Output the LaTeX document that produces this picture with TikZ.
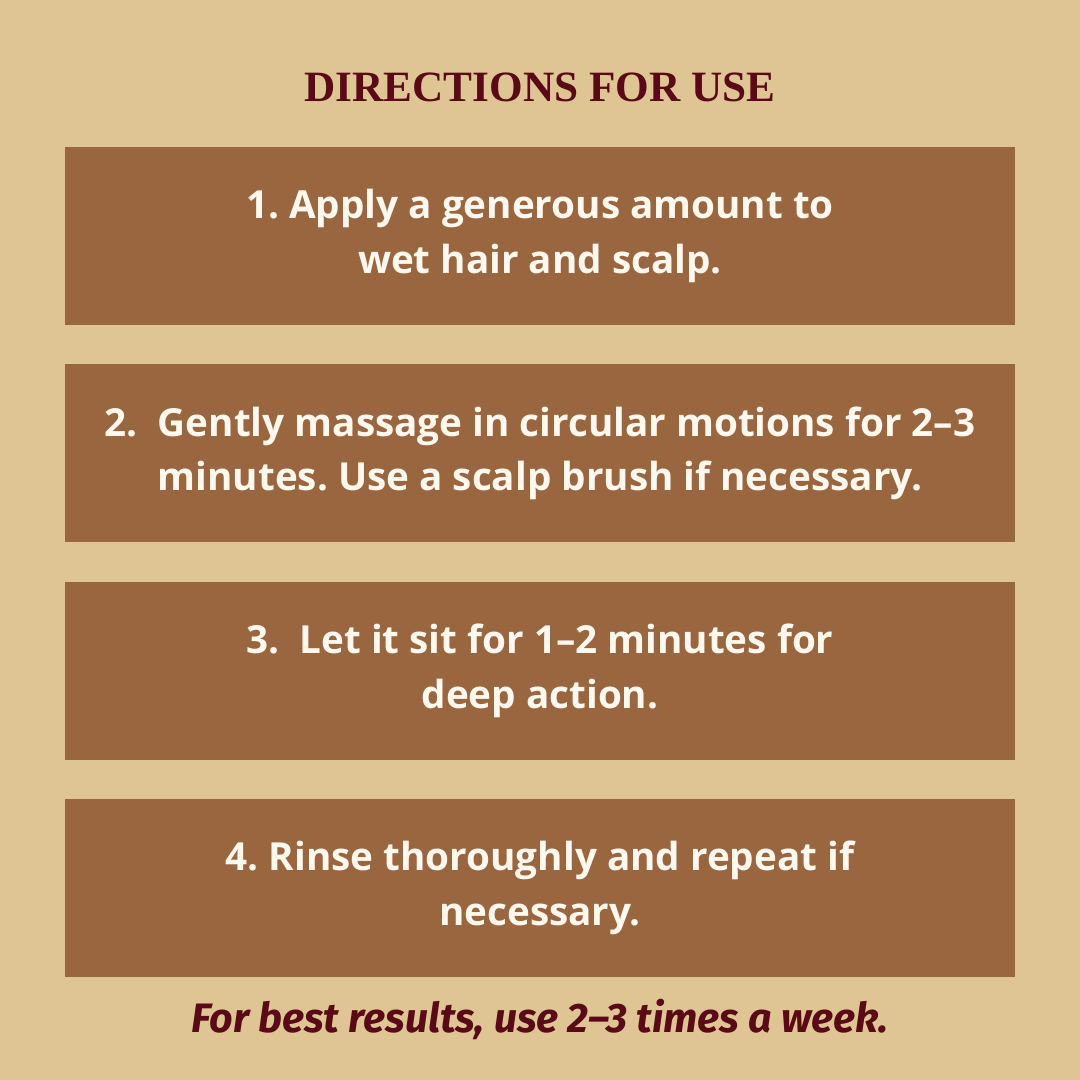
\documentclass[tikz,border=0pt]{standalone}
\usepackage{fontspec}
\setmainfont{Open Sans}
\newfontfamily\headfont{Liberation Serif}
\newfontfamily\notefont{Fira Sans}
\usetikzlibrary{positioning}
\definecolor{sandbg}{HTML}{DFC494}
\definecolor{stepbrown}{HTML}{9A6640}
\definecolor{wine}{HTML}{5A0A16}
\definecolor{cream}{HTML}{FFF8EE}
\frenchspacing

\begin{document}
\begin{tikzpicture}[
    node distance=3.8mm,
    stepbox/.style={
        rectangle,
        fill=stepbrown,
        minimum width=95mm,
        minimum height=17.8mm,
        inner sep=0pt,
        text=cream,
        align=center,
        font=\fontsize{11}{15.6}\selectfont\bfseries
    },
    heading/.style={
        anchor=base,
        text=wine,
        font=\headfont\fontsize{12.3}{15}\selectfont\bfseries
    },
    footnote/.style={
        anchor=base,
        text=wine,
        font=\notefont\fontsize{11.7}{13}\selectfont\bfseries\itshape
    }
]

% Background
\fill[sandbg] (0,0) rectangle (108mm,108mm);

% Title
\node[heading] (title) at (54mm,97.8mm) {DIRECTIONS FOR USE};

% Steps
\node[stepbox] (one) at (54mm,84.4mm) {1. Apply a generous amount to\\wet hair and scalp.};
\node[stepbox, below=of one] (two) {2.\ \ Gently massage in circular motions for 2–3\\minutes. Use a scalp brush if necessary.};
\node[stepbox, below=of two] (three) {3.\ \ Let it sit for 1–2 minutes for\\deep action.};
\node[stepbox, below=of three] (four) {4. Rinse thoroughly and repeat if\\necessary.};

% Note
\node[footnote] (note) at (54mm,4.8mm) {For best results, use 2–3 times a week.};

\end{tikzpicture}
\end{document}
